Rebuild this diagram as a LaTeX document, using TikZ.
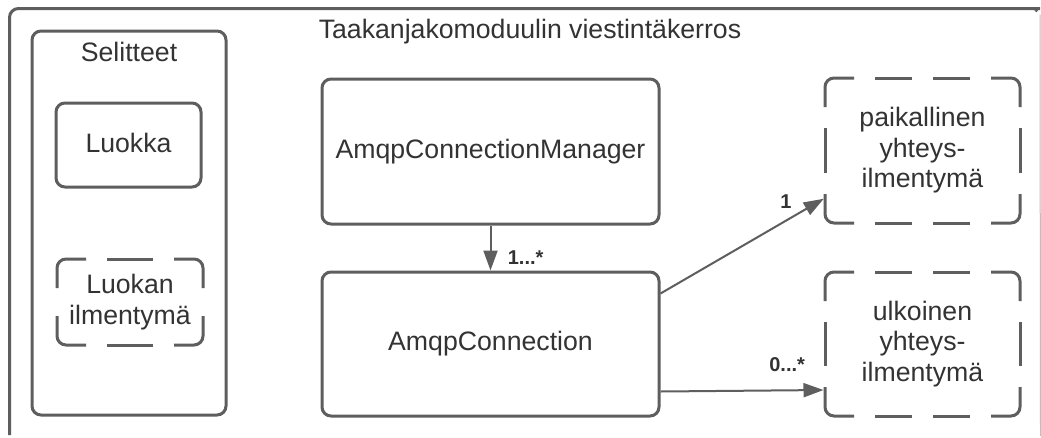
\documentclass[tikz,border=0pt]{standalone}
\usepackage{fontspec}
\setmainfont{Liberation Sans}
\usetikzlibrary{arrows.meta,calc}

\definecolor{linegray}{HTML}{5E5E5E}
\definecolor{textgray}{HTML}{333333}

% Dashed outline around a node: solid L-shaped corners, evenly spread dashes
% between them.  #1 node name, #2 dashes on each horizontal side, #3 dashes
% on each vertical side.
\def\dfarm{29}
\def\dfgap{21}
\newcommand\dashedframe[3]{%
  \pgfpointanchor{#1}{north west}\pgfgetlastxy{\dfxa}{\dfya}%
  \pgfpointanchor{#1}{south east}\pgfgetlastxy{\dfxb}{\dfyb}%
  \pgfmathsetmacro\dfw{\dfxb-\dfxa}%
  \pgfmathsetmacro\dfh{\dfya-\dfyb}%
  \draw[frame, rounded corners=9pt]
    ([yshift=-\dfarm pt]#1.north west) |- ([xshift=\dfarm pt]#1.north west);
  \draw[frame, rounded corners=9pt]
    ([xshift=-\dfarm pt]#1.north east) -| ([yshift=-\dfarm pt]#1.north east);
  \draw[frame, rounded corners=9pt]
    ([yshift=\dfarm pt]#1.south east) |- ([xshift=-\dfarm pt]#1.south east);
  \draw[frame, rounded corners=9pt]
    ([xshift=\dfarm pt]#1.south west) -| ([yshift=\dfarm pt]#1.south west);
  \ifnum#2>0
    \pgfmathsetlengthmacro\dfd{(\dfw-2*\dfarm-(#2+1)*\dfgap)/#2}%
    \draw[frame, dash pattern=on \dfd off \dfgap pt]
      ([xshift={(\dfarm+\dfgap)*1pt}]#1.north west) -- ([xshift={-(\dfarm+\dfgap)*1pt}]#1.north east);
    \draw[frame, dash pattern=on \dfd off \dfgap pt]
      ([xshift={(\dfarm+\dfgap)*1pt}]#1.south west) -- ([xshift={-(\dfarm+\dfgap)*1pt}]#1.south east);
  \fi
  \ifnum#3>0
    \pgfmathsetlengthmacro\dfe{(\dfh-2*\dfarm-(#3+1)*\dfgap)/#3}%
    \draw[frame, dash pattern=on \dfe off \dfgap pt]
      ([yshift={-(\dfarm+\dfgap)*1pt}]#1.north west) -- ([yshift={(\dfarm+\dfgap)*1pt}]#1.south west);
    \draw[frame, dash pattern=on \dfe off \dfgap pt]
      ([yshift={-(\dfarm+\dfgap)*1pt}]#1.north east) -- ([yshift={(\dfarm+\dfgap)*1pt}]#1.south east);
  \fi
}

\begin{document}
\begin{tikzpicture}[x=1pt, y=-1pt,
  every node/.style={text=textgray, font=\fontsize{26.67}{30.5}\selectfont},
  frame/.style={draw=linegray, line width=3pt},
  box/.style={frame, rounded corners=9pt, inner sep=0pt, align=center},
  ghost/.style={draw=none, outer sep=0pt, inner sep=0pt, align=center},
  link/.style={draw=linegray, line width=2pt, -{Triangle[length=20pt,width=14pt]}},
  mult/.style={font=\fontsize{20}{24}\selectfont\bfseries}
]
  \path[use as bounding box, fill=white] (0,0) rectangle (1041,437);

  % module frame (its lower and right parts run past the page edge)
  \coordinate (frameBL) at (9.5,435);
  \coordinate (frameTL) at (9.5,8.5);
  \coordinate (frameTR) at (1040,8.5);
  \draw[frame, rounded corners=9pt] (frameBL) -- (frameTL) -- ([xshift=-9pt]frameTR)
    arc[start angle=90, end angle=45, radius=9pt];
  \draw[draw=linegray!40, line width=1pt] ([yshift=-6pt]frameTR) -- (1040.5,436);
  \node (title) at (530,32) {Taakanjakomoduulin viestintäkerros};

  % legend
  \node[box, minimum width=194pt, minimum height=384pt] (legend) at (129,223) {};
  \node (legendtitle) at (129,52) {Selitteet};
  \node[box, minimum width=145pt, minimum height=84pt, text depth=4pt] (class) at (128.5,145) {Luokka};
  \node[ghost, minimum width=146pt, minimum height=86pt] (instance) at (130,302) {Luokan\\ilmentymä};
  \dashedframe{instance}{1}{0}

  % classes
  \node[box, minimum width=337pt, minimum height=145pt] (manager) at (490.5,151.5) {AmqpConnectionManager};
  \node[box, minimum width=337pt, minimum height=144pt] (conn) at (490.5,344) {AmqpConnection};

  % connection instances
  \node[ghost, minimum width=195pt, minimum height=145pt] (local) at (922.5,150.5) {paikallinen\\yhteys-\\ilmentymä};
  \dashedframe{local}{2}{1}
  \node[ghost, minimum width=195pt, minimum height=144pt] (remote) at (922.5,344) {ulkoinen\\yhteys-\\ilmentymä};
  \dashedframe{remote}{2}{1}

  % associations
  \draw[link] (manager.south) -- (conn.north)
    node[mult, pos=0.72, anchor=west, xshift=13pt] {1...*};
  \draw[link, shorten >=1.5pt] ([yshift=-23pt]conn.north east) -- ([yshift=25pt]local.south west)
    node[mult, pos=0.78, anchor=south, xshift=-3pt, yshift=6pt] {1};
  \draw[link, shorten >=1.5pt] ([yshift=26pt]conn.south east) -- ([yshift=26pt]remote.south west)
    node[mult, pos=0.8, anchor=south, xshift=-5pt, yshift=14pt] {0...*};
\end{tikzpicture}
\end{document}
